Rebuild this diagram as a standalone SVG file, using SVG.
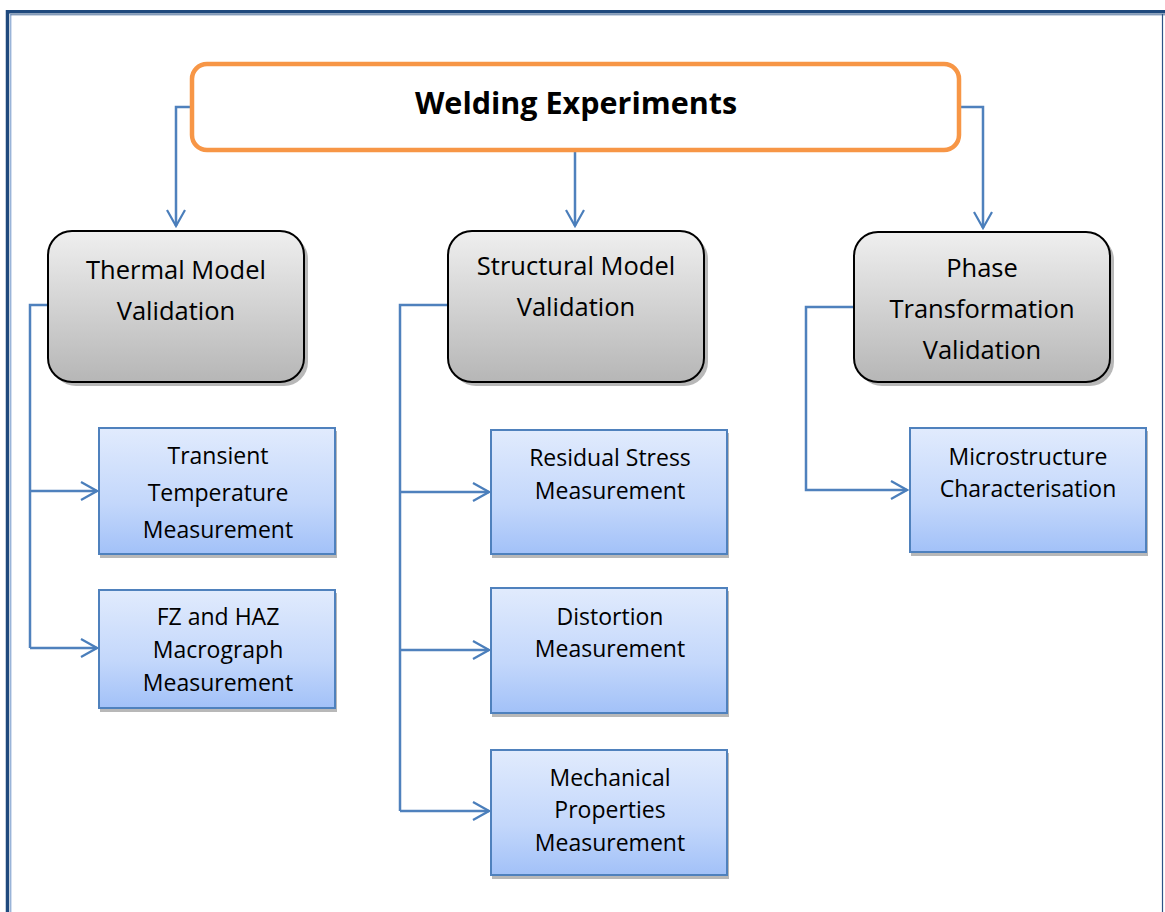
<svg xmlns="http://www.w3.org/2000/svg" width="1165" height="912" viewBox="0 0 1165 912">
<defs>
<linearGradient id="gGray" x1="0" y1="0" x2="0" y2="1">
<stop offset="0" stop-color="#efefef"/>
<stop offset="1" stop-color="#b6b6b6"/>
</linearGradient>
<linearGradient id="gBlue" x1="0" y1="0" x2="0" y2="1">
<stop offset="0" stop-color="#e1ebfd"/>
<stop offset="0.6" stop-color="#c3d7fb"/>
<stop offset="1" stop-color="#a2c1f8"/>
</linearGradient>
<marker id="arr" markerUnits="userSpaceOnUse" markerWidth="20" markerHeight="24" viewBox="0 0 20 24" refX="18" refY="12" orient="auto">
<path d="M2,3 L18,12 L2,21" fill="none" stroke="#4a7ebb" stroke-width="2.2"/>
</marker>
</defs>
<style>
.conn{fill:none;stroke:#4f81bd;stroke-width:2.5}
.gray{fill:url(#gGray);stroke:#000;stroke-width:2}
.blue{fill:url(#gBlue);stroke:#4f81bd;stroke-width:2}
.shadow{fill:#9a9a9a;opacity:0.7}
.t{font-family:"Open Sans","Liberation Sans",sans-serif;fill:#000;text-anchor:middle}
.tg{font-size:25.5px}
.tb{font-size:23px}
.title{font-family:"Open Sans","Liberation Sans",sans-serif;font-weight:bold;font-size:30.5px;fill:#000;text-anchor:middle}
</style>
<rect width="1165" height="912" fill="#fff"/>
<!-- page border -->
<g id="border">
<line x1="7.5" y1="10" x2="7.5" y2="912" stroke="#1f497d" stroke-width="3.5"/>
<line x1="10.8" y1="14" x2="10.8" y2="912" stroke="#6f95c8" stroke-width="1"/>
<line x1="6" y1="11.8" x2="1165" y2="11.8" stroke="#1f497d" stroke-width="3.5"/>
<line x1="10.5" y1="14.8" x2="1165" y2="14.8" stroke="#4f6f9a" stroke-width="1"/>
<line x1="1162.5" y1="14" x2="1162.5" y2="912" stroke="#2d5386" stroke-width="1.2"/>
</g>
<!-- connectors -->
<g id="connectors">
<path class="conn" d="M192,107 H176 V226" marker-end="url(#arr)"/>
<path class="conn" d="M575,152 V226" marker-end="url(#arr)"/>
<path class="conn" d="M960,107 H983 V228" marker-end="url(#arr)"/>
<path class="conn" d="M48,305 H30 V648"/>
<path class="conn" d="M30,491 H97" marker-end="url(#arr)"/>
<path class="conn" d="M30,648 H97" marker-end="url(#arr)"/>
<path class="conn" d="M448,305 H400 V811"/>
<path class="conn" d="M400,492 H489" marker-end="url(#arr)"/>
<path class="conn" d="M400,650 H489" marker-end="url(#arr)"/>
<path class="conn" d="M400,811 H489" marker-end="url(#arr)"/>
<path class="conn" d="M854,307 H806 V490 H907" marker-end="url(#arr)"/>
</g>
<!-- top node -->
<g id="welding">
<rect x="192" y="64" width="767" height="86" rx="15" fill="#fff" stroke="#f79646" stroke-width="4.5"/>
<text class="title" x="576" y="114">Welding Experiments</text>
</g>
<!-- gray nodes -->
<g id="thermal">
<rect class="shadow" x="52" y="235" width="256" height="151" rx="24"/>
<rect class="gray" x="48" y="231" width="256" height="151" rx="24"/>
<text class="t tg" x="176" y="279">Thermal Model</text>
<text class="t tg" x="176" y="320">Validation</text>
</g>
<g id="structural">
<rect class="shadow" x="452" y="235" width="256" height="151" rx="24"/>
<rect class="gray" x="448" y="231" width="256" height="151" rx="24"/>
<text class="t tg" x="576" y="275">Structural Model</text>
<text class="t tg" x="576" y="316">Validation</text>
</g>
<g id="phase">
<rect class="shadow" x="858" y="236" width="256" height="150" rx="24"/>
<rect class="gray" x="854" y="232" width="256" height="150" rx="24"/>
<text class="t tg" x="982" y="277">Phase</text>
<text class="t tg" x="982" y="318">Transformation</text>
<text class="t tg" x="982" y="359">Validation</text>
</g>
<!-- blue nodes -->
<g id="transient">
<rect class="shadow" x="100" y="431" width="237" height="127"/>
<rect class="blue" x="99" y="428" width="236" height="126"/>
<text class="t tb" x="218" y="464">Transient</text>
<text class="t tb" x="218" y="501">Temperature</text>
<text class="t tb" x="218" y="538">Measurement</text>
</g>
<g id="fzhaz">
<rect class="shadow" x="100" y="593" width="237" height="119"/>
<rect class="blue" x="99" y="590" width="236" height="118"/>
<text class="t tb" x="218" y="625">FZ and HAZ</text>
<text class="t tb" x="218" y="658">Macrograph</text>
<text class="t tb" x="218" y="691">Measurement</text>
</g>
<g id="residual">
<rect class="shadow" x="492" y="433" width="237" height="125"/>
<rect class="blue" x="491" y="430" width="236" height="124"/>
<text class="t tb" x="610" y="466">Residual Stress</text>
<text class="t tb" x="610" y="499">Measurement</text>
</g>
<g id="distortion">
<rect class="shadow" x="492" y="591" width="237" height="126"/>
<rect class="blue" x="491" y="588" width="236" height="125"/>
<text class="t tb" x="610" y="625">Distortion</text>
<text class="t tb" x="610" y="657">Measurement</text>
</g>
<g id="mechanical">
<rect class="shadow" x="492" y="753" width="237" height="126"/>
<rect class="blue" x="491" y="750" width="236" height="125"/>
<text class="t tb" x="610" y="786">Mechanical</text>
<text class="t tb" x="610" y="818">Properties</text>
<text class="t tb" x="610" y="851">Measurement</text>
</g>
<g id="microstructure">
<rect class="shadow" x="911" y="431" width="237" height="125"/>
<rect class="blue" x="910" y="428" width="236" height="124"/>
<text class="t tb" x="1028" y="465">Microstructure</text>
<text class="t tb" x="1028" y="497">Characterisation</text>
</g>
</svg>
